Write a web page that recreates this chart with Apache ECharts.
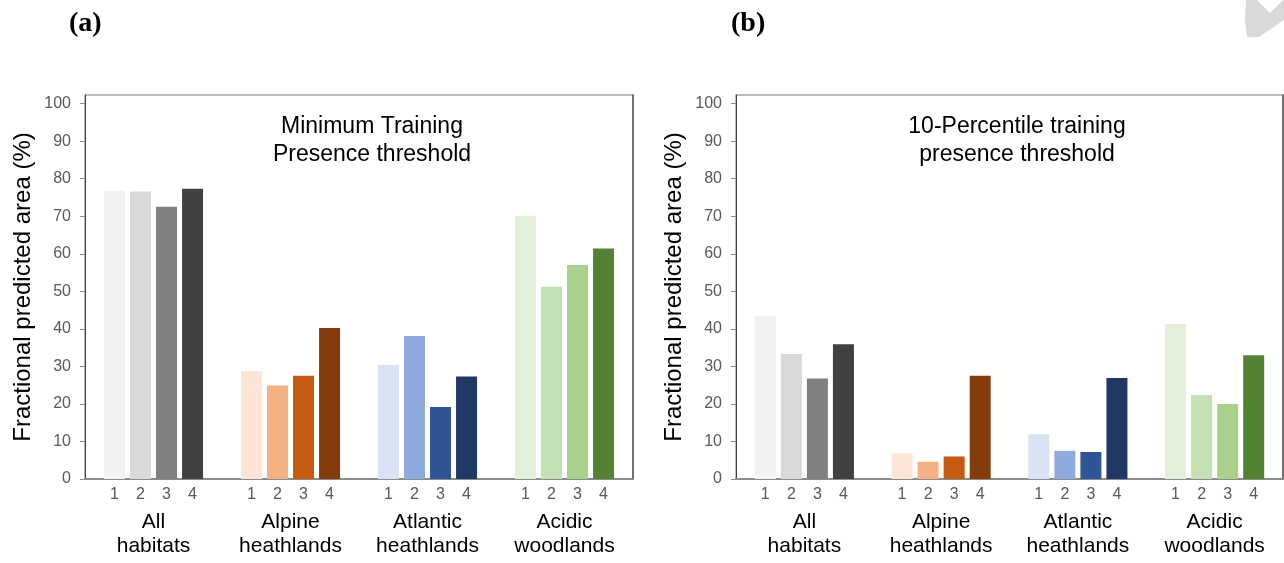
<!DOCTYPE html>
<html>
<head>
<meta charset="utf-8">
<script src="https://cdn.jsdelivr.net/npm/echarts@6/dist/echarts.min.js"></script>
<style>
html,body{margin:0;padding:0;background:#fff;}
#chart{width:1284px;height:563px;}
</style>
</head>
<body>
<div id="chart"></div>
<script>
// ---- data ----
const groups = ['All\nhabitats', 'Alpine\nheathlands', 'Atlantic\nheathlands', 'Acidic\nwoodlands'];
const barNames = ['1', '2', '3', '4'];
const yTicks = [0, 10, 20, 30, 40, 50, 60, 70, 80, 90, 100];

// Panel (a): Minimum Training Presence threshold (values per bar number, across groups)
const minTrain1 = [76.8, 28.8, 30.4, 70.1];
const minTrain2 = [76.6, 24.9, 38.1, 51.2];
const minTrain3 = [72.5, 27.5, 19.2, 57.0];
const minTrain4 = [77.3, 40.2, 27.3, 61.4];

// Panel (b): 10-Percentile training presence threshold
const pct1 = [43.4, 6.8, 11.9, 41.3];
const pct2 = [33.3, 4.6, 7.5, 22.4];
const pct3 = [26.8, 6.0, 7.2, 20.0];
const pct4 = [35.9, 27.5, 26.9, 33.0];

const titleA = 'Minimum Training\nPresence threshold';
const titleB = '10-Percentile training\npresence threshold';
const yName = 'Fractional predicted area (%)';

// colours per group (light -> dark)
const palette = [
  ['#f2f2f2', '#d9d9d9', '#808080', '#404040'],
  ['#fbe5d6', '#f4b183', '#c55a11', '#843c0c'],
  ['#dae3f3', '#8faadc', '#2f5597', '#203864'],
  ['#e2efda', '#c5e0b4', '#a9d18e', '#548235']
];

const FONT = 'Liberation Sans, Arial, sans-serif';
const panelA = [minTrain1, minTrain2, minTrain3, minTrain4];
const panelB = [pct1, pct2, pct3, pct4];

const grids = [
  {left: 85, top: 95, width: 548, height: 384},
  {left: 736, top: 95, width: 547, height: 384}
];

function makeSeries(panel, gi) {
  return panel.map((vals, k) => ({
    type: 'bar',
    name: barNames[k],
    xAxisIndex: gi,
    yAxisIndex: gi * 2,
    barWidth: 21,
    barGap: '24%',
    data: vals.map((v, g) => ({value: v, itemStyle: {color: palette[g][k]}})),
    label: {
      show: true,
      position: 'insideBottom',
      distance: 0,
      offset: [0, 24],
      formatter: barNames[k],
      color: '#595959',
      fontSize: 16,
      fontFamily: FONT
    },
    emphasis: {disabled: true}
  }));
}

const xAxes = grids.map((g, i) => ({
  type: 'category',
  gridIndex: i,
  data: groups,
  axisTick: {show: false},
  axisLine: {show: true, lineStyle: {color: '#8c8c8c', width: 2}},
  axisLabel: {margin: 31, fontSize: 21, lineHeight: 24, color: '#000', fontFamily: FONT, interval: 0}
}));

const yAxes = [];
grids.forEach((g, i) => {
  yAxes.push({
    type: 'value',
    gridIndex: i,
    min: 0,
    max: 102.3,
    interval: 10,
    name: yName,
    nameLocation: 'middle',
    nameGap: 50,
    nameTextStyle: {fontSize: 24, color: '#000', fontFamily: FONT},
    axisLine: {show: true, lineStyle: {color: '#404040', width: 1}},
    axisTick: {show: true, length: 5, lineStyle: {color: '#8c8c8c'}, customValues: yTicks},
    axisLabel: {fontSize: 16, color: '#595959', margin: 14, fontFamily: FONT, customValues: yTicks},
    splitLine: {show: false}
  });
  yAxes.push({
    type: 'value',
    gridIndex: i,
    position: 'right',
    min: 0,
    max: 102.3,
    axisLine: {show: true, lineStyle: {color: '#595959', width: 1.5}},
    axisTick: {show: false},
    axisLabel: {show: false},
    splitLine: {show: false}
  });
});

const option = {
  backgroundColor: '#ffffff',
  animation: false,
  title: [
    {text: '(a)', left: 64, top: 5, textStyle: {fontFamily: 'Liberation Serif, Times New Roman, serif', fontWeight: 'bold', fontSize: 28, color: '#000'}},
    {text: '(b)', left: 726, top: 5, textStyle: {fontFamily: 'Liberation Serif, Times New Roman, serif', fontWeight: 'bold', fontSize: 28, color: '#000'}},
    {text: titleA, left: 367, top: 108, textAlign: 'center', textStyle: {fontFamily: FONT, fontWeight: 'normal', fontSize: 23, lineHeight: 28, color: '#000'}},
    {text: titleB, left: 1012, top: 108, textAlign: 'center', textStyle: {fontFamily: FONT, fontWeight: 'normal', fontSize: 23, lineHeight: 28, color: '#000'}}
  ],
  grid: grids.map(g => Object.assign({show: true, borderColor: '#a6a6a6', borderWidth: 1.5, backgroundColor: 'transparent', containLabel: false}, g)),
  xAxis: xAxes,
  yAxis: yAxes,
  series: makeSeries(panelA, 0).concat(makeSeries(panelB, 1)),
  graphic: [{
    type: 'polygon',
    shape: {points: [[1246, 0], [1257, 0], [1270, 13], [1283, 0], [1284, 0], [1284, 20], [1259, 37], [1247, 37], [1245, 20]]},
    style: {fill: '#d9d9d9'},
    silent: true
  }]
};

const chart = echarts.init(document.getElementById('chart'), null, {renderer: 'canvas'});
chart.setOption(option);
</script>
</body>
</html>
